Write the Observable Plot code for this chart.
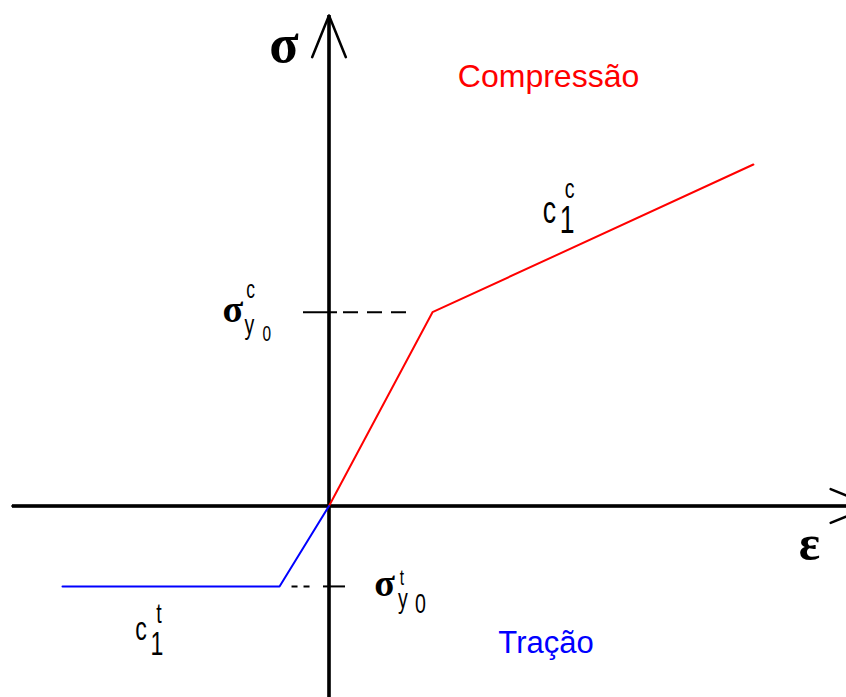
<!DOCTYPE html>
<html><head><meta charset="utf-8">
<script src="https://cdn.jsdelivr.net/npm/d3@7"></script>
<script src="https://cdn.jsdelivr.net/npm/@observablehq/plot@0.6"></script>
<style>
html,body{margin:0;padding:0;background:#fff;overflow:hidden;}
#chart{width:846px;height:697px;overflow:hidden;}
</style></head><body><div id="chart"></div>
<script>
// ---- data (strain ε, stress σ; units of the compressive yield point) ----
const compStrain = [0, 1.0, 4.10];
const compStress = [0, 1.0, 1.762];
const tensStrain = [0, -0.478, -2.575];
const tensStress = [0, -0.415, -0.415];
const yieldComp = {strain: 1.0, stress: 1.0};
const yieldTens = {strain: -0.478, stress: -0.415};
const axisStrainExtent = [-3.058, 5.25];
const axisStressExtent = [-1.1, 2.531];

// ---- annotation texts (anchored in data units) ----
const labels = [
  {t: "σ", x: -0.435, y: 2.289, cls: "axisS"},
  {t: "ε", x: 4.643, y: -0.281, cls: "axisE"},
  {t: "σ", x: -0.928, y: 0.947, cls: "sym"},
  {t: "σ", x: 0.536, y: -0.462, cls: "sym"},
  {t: "c", x: -0.758, y: 1.071, cls: "supc"},
  {t: "y", x: -0.768, y: 0.885, cls: "script"},
  {t: "0", x: -0.600, y: 0.849, cls: "small"},
  {t: "t", x: 0.705, y: -0.410, cls: "small"},
  {t: "y", x: 0.715, y: -0.524, cls: "script"},
  {t: "0", x: 0.884, y: -0.550, cls: "script"},
  {t: "c", x: 2.130, y: 1.458, cls: "big"},
  {t: "1", x: 2.300, y: 1.411, cls: "big"},
  {t: "c", x: 2.324, y: 1.590, cls: "script"},
  {t: "c", x: -1.816, y: -0.694, cls: "mid"},
  {t: "1", x: -1.662, y: -0.771, cls: "mid"},
  {t: "t", x: -1.643, y: -0.606, cls: "script"},
];
const regionLabels = [
  {t: "Compressão", x: 2.121, y: 2.160, color: "#ff0000"},
  {t: "Tração", x: 2.097, y: -0.761, color: "#0000ff"},
];

// ---- layout ----
const W = 846, H = 697;
const ox = 328.5, oy = 505.5, ux = 103.5, uy = 193.8;
const xDomain = [-ox / ux, (W - ox) / ux];
const yDomain = [-(H - oy) / uy, oy / uy];
const sizes = {axisS: 54, axisE: 50, sym: 38, big: 38, mid: 33, script: 28, small: 22, supc: 25};
const serif = new Set(["axisS", "axisE", "sym"]);

const comp = compStrain.map((e, i) => ({e, s: compStress[i]}));
const tens = tensStrain.map((e, i) => ({e, s: tensStress[i]}));

const chart = Plot.plot({
  width: W, height: H,
  marginTop: 0, marginRight: 0, marginBottom: 0, marginLeft: 0,
  x: {domain: xDomain, axis: null},
  y: {domain: yDomain, axis: null},
  marks: [
    // axes
    Plot.ruleY([0], {x1: axisStrainExtent[0], x2: axisStrainExtent[1], stroke: "black", strokeWidth: 3.5}),
    Plot.ruleX([0], {y1: axisStressExtent[0], y2: axisStressExtent[1], stroke: "black", strokeWidth: 3.5}),
    Plot.arrow([{x1: axisStrainExtent[0], x2: axisStrainExtent[1]}], {x1: "x1", x2: "x2", y1: 0, y2: 0, stroke: "black", strokeWidth: 2.5, headLength: 27, headAngle: 44}),
    Plot.arrow([{y1: axisStressExtent[0], y2: axisStressExtent[1]}], {x1: 0, x2: 0, y1: "y1", y2: "y2", stroke: "black", strokeWidth: 2.5, headLength: 27, headAngle: 44}),
    // yield ticks and guides
    Plot.ruleY([yieldComp], {y: "stress", x1: 0, x2: 0, insetLeft: -25.5, insetRight: -8.5, stroke: "black", strokeWidth: 2}),
    Plot.ruleY([yieldComp], {y: "stress", x1: 0, x2: "strain", insetLeft: 14.5, insetRight: 24, stroke: "black", strokeWidth: 2, strokeDasharray: "15,9"}),
    Plot.ruleY([yieldTens], {y: "stress", x1: 0, x2: 0, insetLeft: -5.5, insetRight: -16.5, stroke: "black", strokeWidth: 2}),
    Plot.ruleY([yieldTens], {y: "stress", x1: "strain", x2: 0, insetLeft: 12.5, insetRight: 18.5, stroke: "black", strokeWidth: 2, strokeDasharray: "6,6"}),
    // constitutive branches
    Plot.line(comp, {x: "e", y: "s", stroke: "#ff0000", strokeWidth: 2}),
    Plot.line(tens, {x: "e", y: "s", stroke: "#0000ff", strokeWidth: 2}),
    // labels
    Plot.text(labels.filter(d => serif.has(d.cls)), {
      x: "x", y: "y", text: "t", lineAnchor: "bottom", textAnchor: "middle",
      fontSize: d => sizes[d.cls], fontFamily: "Liberation Serif, DejaVu Serif, serif", fontWeight: "bold", fill: "black"
    }),
    Plot.text(labels.filter(d => !serif.has(d.cls)), {
      x: "x", y: "y", text: "t", lineAnchor: "bottom", textAnchor: "middle",
      fontSize: d => sizes[d.cls], fontFamily: "Liberation Sans, Arial, sans-serif", fill: "black",
      ariaDescription: "narrow"
    }),
    Plot.text(regionLabels.slice(0, 1), {x: "x", y: "y", text: "t", lineAnchor: "bottom", textAnchor: "middle",
      fontSize: 32, fontFamily: "Liberation Sans, Arial, sans-serif", fill: "#ff0000"}),
    Plot.text(regionLabels.slice(1), {x: "x", y: "y", text: "t", lineAnchor: "bottom", textAnchor: "middle",
      fontSize: 31, fontFamily: "Liberation Sans, Arial, sans-serif", fill: "#0000ff"}),
  ]
});
document.getElementById("chart").appendChild(chart);

// condense the script glyphs horizontally about their anchor
chart.querySelectorAll('g[aria-description="narrow"] text').forEach(el => {
  const x = +(el.getAttribute("x") || 0), y = +(el.getAttribute("y") || 0);
  const t = el.getAttribute("transform") || "";
  el.setAttribute("transform", `${t} translate(${x},${y}) scale(0.7,1)`);
  el.removeAttribute("x"); el.removeAttribute("y");
});
</script></body></html>
